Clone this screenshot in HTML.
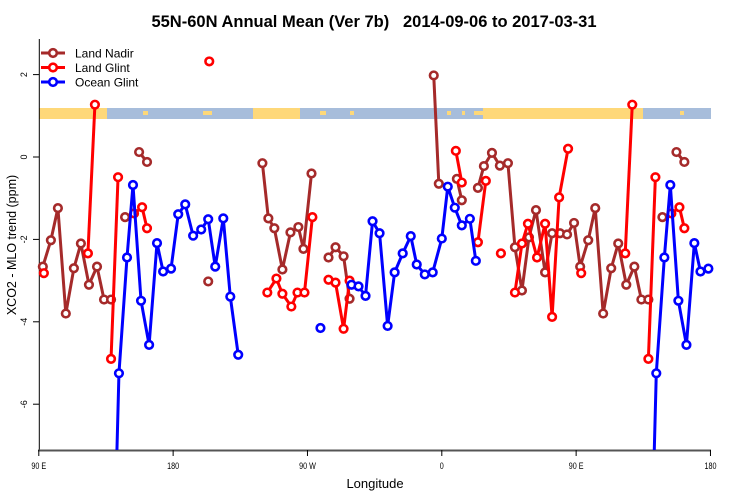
<!DOCTYPE html>
<html><head><meta charset="utf-8"><style>
html,body{margin:0;padding:0;background:#fff;width:750px;height:500px;overflow:hidden;}
svg{display:block;overflow:hidden;font-family:"Liberation Sans",Arial,sans-serif;}
</style></head><body>
<svg id="chart" width="750" height="500" viewBox="0 0 750 500">
<text x="374" y="27" text-anchor="middle" font-size="16.5" font-weight="bold" xml:space="preserve">55N-60N Annual Mean (Ver 7b)   2014-09-06 to 2017-03-31</text>
<g id="band"></g>
<g id="axes"></g>
<g id="series"></g>
<g id="legend"></g>
<text x="375" y="488" text-anchor="middle" font-size="13">Longitude</text>
<text transform="translate(16,245) rotate(-90)" text-anchor="middle" font-size="12.5">XCO2 - MLO trend (ppm)</text>
</svg>
<script>
// x domain: longitude 90 (90E) .. 540 (180 after wrap), 0 = 360
const xTickVals = [90, 180, 270, 360, 450, 540];
const xTickLabels = ["90 E", "180", "90 W", "0", "90 E", "180"];
const yTickVals = [2, 0, -2, -4, -6];
// series: longitudes and values (null = gap); drawn at lon and lon+360
const nadirLon = [92.7,98.1,102.8,108.1,113.5,118.2,123.6,129.0,133.7,138.4,null,147.8,null,157.2,162.5,null,203.5,null,239.8,243.8,247.8,253.2,258.6,263.9,267.3,272.7,null,284.1,288.8,294.2,298.2,null,354.6,358.0,null,370.1,373.4,null,384.2,388.2,393.6,398.9,404.3,409.0,413.7,418.4,423.1,429.2,433.9,439.2,443.9,448.6];
const nadirVal = [-2.66,-2.02,-1.24,-3.8,-2.7,-2.1,-3.1,-2.66,-3.46,-3.46,null,-1.46,null,0.12,-0.12,null,-3.02,null,-0.15,-1.49,-1.73,-2.73,-1.83,-1.7,-2.23,-0.4,null,-2.44,-2.19,-2.41,-3.44,null,1.98,-0.65,null,-0.53,-1.05,null,-0.75,-0.22,0.1,-0.21,-0.15,-2.19,-3.24,-1.95,-1.29,-2.8,-1.85,-1.85,-1.88,-1.6];
const landGlintLon = [93.4,null,122.9,127.6,null,138.4,143.1,null,153.8,159.2,162.5,null,204.2,null,243.1,249.2,253.2,259.2,263.3,268.0,273.3,null,284.1,288.8,294.2,298.2,null,369.4,373.4,null,384.2,389.5,null,399.6,null,409.0,413.7,417.7,423.8,429.2,433.9,438.6,444.6,null];
const landGlintVal = [-2.82,null,-2.34,1.27,null,-4.9,-0.49,null,-1.37,-1.22,-1.73,null,2.32,null,-3.29,-2.95,-3.32,-3.63,-3.29,-3.29,-1.46,null,-2.98,-3.05,-4.17,-3.0,null,0.15,-0.62,null,-2.07,-0.58,null,-2.34,null,-3.29,-2.1,-1.62,-2.44,-1.62,-3.88,-0.98,0.2,null];
const oceanLon = [141.0,143.7,149.1,153.1,158.5,163.9,169.2,173.3,178.6,183.4,188.1,193.4,198.8,203.5,208.2,213.6,218.3,223.6,null,278.7,null,299.5,304.2,308.9,313.6,318.3,323.7,328.4,333.8,339.2,343.2,348.6,353.9,360.0,364.0,368.7,373.4,378.8,382.8,null];
const oceanVal = [-9,-5.25,-2.44,-0.68,-3.49,-4.56,-2.09,-2.78,-2.71,-1.39,-1.15,-1.91,-1.76,-1.51,-2.66,-1.49,-3.39,-4.8,null,-4.15,null,-3.1,-3.14,-3.37,-1.56,-1.85,-4.1,-2.8,-2.34,-1.92,-2.61,-2.85,-2.8,-1.98,-0.72,-1.23,-1.66,-1.5,-2.52,null];
const legendNames = ["Land Nadir", "Land Glint", "Ocean Glint"];
const legendColors = ["#a52a2a", "#ff0000", "#0000ff"];

const NS = "http://www.w3.org/2000/svg";
const X0 = 38.8, XS = 1.4926, Y0 = 157, YS = 41.2;
const YMIN = (Y0 - 450) / YS, YMAX = (Y0 - 39) / YS, LMAX = 540.5;
const xs = l => X0 + (l - 90) * XS;
const ys = v => Y0 - v * YS;
function mk(tag, attrs, parent) { const e = document.createElementNS(NS, tag); for (const k in attrs) e.setAttribute(k, attrs[k]); parent.appendChild(e); return e; }

// land/ocean band
const band = document.getElementById("band");
const r0 = mk("rect", {x: 39, y: 108, width: 672, height: 11, fill: "#fed879"}, band);


[[107,253],[300,483],[643,711]].forEach(([a,b]) => {
  const r = mk("rect", {x: a, y: 108, width: b - a, height: 11, fill: "#a7bddb"}, band);
  
  
});
[[143,148],[203,212],[320,326],[350,354],[447,451],[462,465],[474,483],[680,684]].forEach(([a,b]) => {
  const r = mk("rect", {x: a, y: 111, width: b - a, height: 4, fill: "#fed879"}, band);
  
  
});

// axes
const ax = document.getElementById("axes");
const yl = mk("line", {x1: 39.3, y1: 39, x2: 39.3, y2: 450, stroke: "#000", "stroke-width": 1}, ax);


const xl = mk("line", {x1: 38, y1: 450.5, x2: 711, y2: 450.5, stroke: "#555", "stroke-width": 2}, ax);


xTickVals.forEach((v, i) => {
  const x = xs(v);
  const t = mk("line", {x1: x, y1: 450, x2: x, y2: 456, stroke: "#000"}, ax);
  
  
  const tx = mk("text", {x: x, y: 469, "text-anchor": "middle", "font-size": 9, transform: `translate(${x},469) scale(0.8,1) translate(${-x},-469)`}, ax);
  tx.textContent = xTickLabels[i];
  
  
});
yTickVals.forEach(v => {
  const y = ys(v);
  const t = mk("line", {x1: 33, y1: y, x2: 39.3, y2: y, stroke: "#000"}, ax);
  
  
  const tx = mk("text", {"text-anchor": "middle", "font-size": 9, transform: `translate(27,${y}) rotate(-90)`}, ax);
  tx.textContent = String(v);
  
  
});

// series
const sg = document.getElementById("series");
function extend(lons, vals) {
  const L = lons.slice(), V = vals.slice();
  for (let i = 0; i < lons.length; i++) {
    if (lons[i] === null) { L.push(null); V.push(null); }
    else if (lons[i] + 360 <= LMAX) { L.push(lons[i] + 360); V.push(vals[i]); }
  }
  return [L, V];
}
const inRange = v => v >= YMIN && v <= YMAX;
function clipPt(l1, v1, l2, v2) { // point on segment from inside (l1,v1) toward outside (l2,v2), at boundary
  const b = v2 < YMIN ? YMIN : YMAX;
  const t = (b - v1) / (v2 - v1);
  return [l1 + t * (l2 - l1), b];
}
function drawSeries(lons, vals, color, name) {
  const [L, V] = extend(lons, vals);
  const g = mk("g", {}, sg);
  
  
  let seg = [];
  const flush = () => {
    if (seg.length > 1) {
      const p = mk("polyline", {points: seg.map(q => xs(q[0]).toFixed(2) + "," + ys(q[1]).toFixed(2)).join(" "), fill: "none", stroke: color, "stroke-width": 3, "stroke-linejoin": "round"}, g);
      
      
    }
    seg = [];
  };
  let prev = null;
  for (let i = 0; i < L.length; i++) {
    if (L[i] === null || V[i] === null) { flush(); prev = null; continue; }
    const cur = [L[i], V[i]];
    if (inRange(cur[1])) {
      if (prev && !inRange(prev[1])) seg.push(clipPt(cur[0], cur[1], prev[0], prev[1]));
      seg.push(cur);
    } else if (prev && inRange(prev[1])) {
      seg.push(clipPt(prev[0], prev[1], cur[0], cur[1]));
      flush();
    }
    prev = cur;
  }
  flush();
  for (let i = 0; i < L.length; i++) {
    if (L[i] === null || V[i] === null || !inRange(V[i])) continue;
    const c = mk("circle", {cx: xs(L[i]), cy: ys(V[i]), r: 3.8, fill: "#fff", stroke: color, "stroke-width": 2.6}, g);
    
    
  }
}
drawSeries(nadirLon, nadirVal, legendColors[0], "land-nadir");
drawSeries(landGlintLon, landGlintVal, legendColors[1], "land-glint");
drawSeries(oceanLon, oceanVal, legendColors[2], "ocean-glint");

// legend
const lg = document.getElementById("legend");
legendNames.forEach((n, i) => {
  const y = 53 + i * 14.5;
  const g = mk("g", {}, lg);
  
  
  mk("line", {x1: 41, y1: y, x2: 65, y2: y, stroke: legendColors[i], "stroke-width": 3}, g);
  mk("circle", {cx: 53, cy: y, r: 3.8, fill: "#fff", stroke: legendColors[i], "stroke-width": 2.6}, g);
  const t = mk("text", {x: 75, y: y + 4.5, "font-size": 12}, g);
  t.textContent = n;
  
  
});
</script>
</body></html>
